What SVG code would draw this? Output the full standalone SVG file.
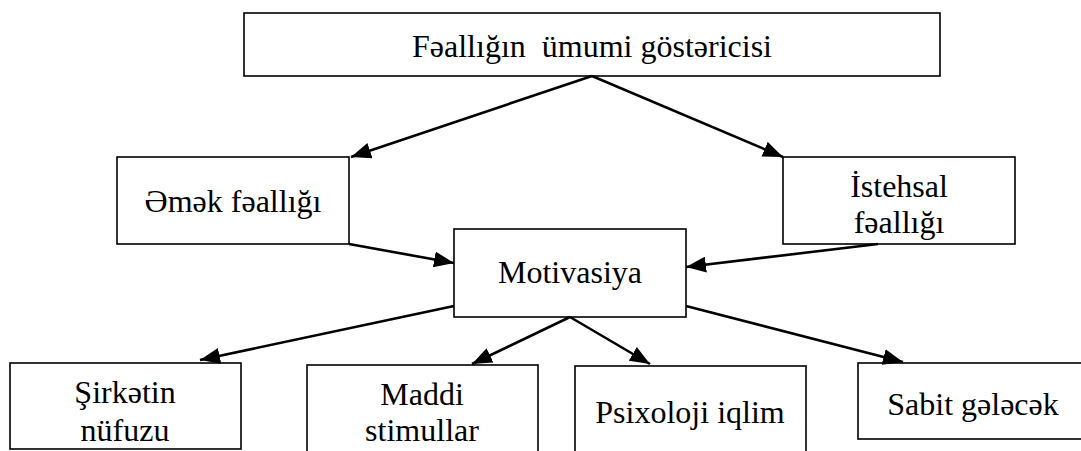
<svg xmlns="http://www.w3.org/2000/svg" width="1081" height="451" viewBox="0 0 1081 451">
<style>
.box{fill:#fff;stroke:#000;stroke-width:1.6}
.t{font-family:"Liberation Serif","Times New Roman",serif;font-size:32px;fill:#000;text-anchor:middle;white-space:pre}
.c{stroke:#000;stroke-width:2.6;fill:none;marker-end:url(#ah)}
</style>
<defs>
<marker id="ah" markerUnits="userSpaceOnUse" markerWidth="22" markerHeight="16" refX="20" refY="8" orient="auto">
<path d="M0,0 L20,8 L0,16 Z" fill="#000"/>
</marker>
</defs>
<g id="n-top"><rect class="box" x="244" y="13" width="696" height="63"/><text class="t" x="592" y="57">Fəallığın  ümumi göstəricisi</text></g>
<g id="n-emek"><rect class="box" x="117" y="157" width="232" height="87"/><text class="t" x="233" y="212">Əmək fəallığı</text></g>
<g id="n-istehsal"><rect class="box" x="783" y="157" width="232" height="87"/><text class="t" x="899" y="197">İstehsal</text><text class="t" x="899" y="233">fəallığı</text></g>
<g id="n-motiv"><rect class="box" x="454" y="229" width="232" height="88"/><text class="t" x="570" y="283">Motivasiya</text></g>
<g id="n-sirket"><rect class="box" x="10" y="363" width="231" height="86"/><text class="t" x="125" y="403">Şirkətin</text><text class="t" x="125" y="441">nüfuzu</text></g>
<g id="n-maddi"><rect class="box" x="307" y="365" width="231" height="100"/><text class="t" x="422" y="405">Maddi</text><text class="t" x="422" y="441">stimullar</text></g>
<g id="n-psix"><rect class="box" x="575" y="366" width="231" height="100"/><text class="t" x="690" y="423">Psixoloji iqlim</text></g>
<g id="n-sabit"><rect class="box" x="858" y="363" width="240" height="76"/><text class="t" x="973" y="415">Sabit gələcək</text></g>
<g id="connectors">
<line class="c" x1="592" y1="76" x2="351" y2="157"/>
<line class="c" x1="592" y1="76" x2="783" y2="157"/>
<line class="c" x1="349" y1="244" x2="454" y2="263"/>
<line class="c" x1="878" y1="244" x2="686" y2="267"/>
<line class="c" x1="454" y1="306" x2="200" y2="360"/>
<line class="c" x1="570" y1="317" x2="472" y2="364"/>
<line class="c" x1="570" y1="317" x2="650" y2="364"/>
<line class="c" x1="686" y1="306" x2="903" y2="362"/>
</g>
</svg>
